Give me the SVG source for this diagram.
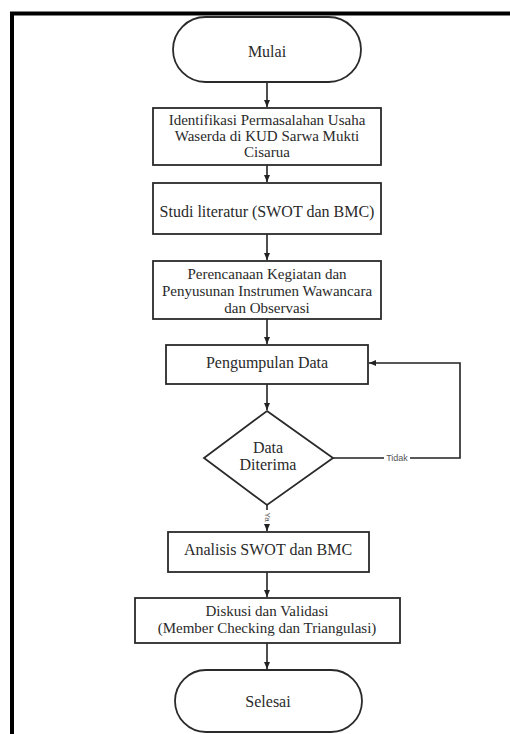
<svg xmlns="http://www.w3.org/2000/svg" width="510" height="734" viewBox="0 0 510 734">
<defs>
<marker id="ah" markerWidth="8" markerHeight="8" refX="7" refY="4" orient="auto" markerUnits="userSpaceOnUse">
<path d="M0,1 L7,4 L0,7 Z" fill="#222"/>
</marker>
<style>
.shape{fill:#fff;stroke:#2a2a2a;stroke-width:1.8}
.t{font-family:"Liberation Serif","Times New Roman",serif;font-size:16px;fill:#2a2a2a;text-anchor:middle}
.m{font-size:15px}
.c{fill:none;stroke:#222;stroke-width:1.6}
.lbl{font-family:"Liberation Sans",Arial,sans-serif;font-size:9px;fill:#555;text-anchor:middle}
</style>
</defs>
<rect width="510" height="734" fill="#fff"/>
<path d="M12,734 V13.5 H510" fill="none" stroke="#000" stroke-width="4"/>
<g id="connectors">
<line class="c" x1="267" y1="82" x2="267" y2="107" marker-end="url(#ah)"/>
<line class="c" x1="267" y1="165" x2="267" y2="182" marker-end="url(#ah)"/>
<line class="c" x1="267" y1="234" x2="267" y2="260" marker-end="url(#ah)"/>
<line class="c" x1="267" y1="319" x2="267" y2="344" marker-end="url(#ah)"/>
<line class="c" x1="267" y1="384" x2="267" y2="410" marker-end="url(#ah)"/>
<line class="c" x1="267" y1="505" x2="267" y2="531" marker-end="url(#ah)"/>
<line class="c" x1="267" y1="572" x2="267" y2="597" marker-end="url(#ah)"/>
<line class="c" x1="267" y1="643" x2="267" y2="669" marker-end="url(#ah)"/>
<path class="c" d="M333,458 H460 V363 H369" marker-end="url(#ah)"/>
<rect x="384" y="452" width="26" height="12" fill="#fff"/>
<text class="lbl" x="397" y="461">Tidak</text>
<rect x="263" y="510" width="9" height="14" fill="#fff"/>
<text class="lbl" transform="translate(265,517) rotate(90)" x="0" y="0" style="font-size:8px">Ya</text>
</g>
<g id="mulai">
<rect class="shape" x="173" y="17" width="188" height="65" rx="32.5" ry="32.5"/>
<text class="t" x="267" y="57">Mulai</text>
</g>
<g id="identifikasi">
<rect class="shape" x="153" y="108" width="228" height="57"/>
<text class="t m" x="267" y="125">Identifikasi Permasalahan Usaha</text>
<text class="t m" x="267" y="141">Waserda di KUD Sarwa Mukti</text>
<text class="t m" x="267" y="157">Cisarua</text>
</g>
<g id="studi">
<rect class="shape" x="153" y="183" width="228" height="51"/>
<text class="t" x="267" y="217">Studi literatur (SWOT dan BMC)</text>
</g>
<g id="perencanaan">
<rect class="shape" x="153" y="261" width="228" height="58"/>
<text class="t m" x="267" y="279">Perencanaan Kegiatan dan</text>
<text class="t m" x="267" y="296">Penyusunan Instrumen Wawancara</text>
<text class="t m" x="267" y="313">dan Observasi</text>
</g>
<g id="pengumpulan">
<rect class="shape" x="166" y="345" width="202" height="39"/>
<text class="t" x="267" y="368">Pengumpulan Data</text>
</g>
<g id="keputusan">
<polygon class="shape" points="267,411 333,458 267,505 204,458"/>
<text class="t" x="268" y="453">Data</text>
<text class="t" x="268" y="470">Diterima</text>
</g>
<g id="analisis">
<rect class="shape" x="168" y="532" width="201" height="40"/>
<text class="t" x="268" y="555">Analisis SWOT dan BMC</text>
</g>
<g id="diskusi">
<rect class="shape" x="135" y="598" width="265" height="45"/>
<text class="t m" x="267" y="616">Diskusi dan Validasi</text>
<text class="t m" x="267" y="633">(Member Checking dan Triangulasi)</text>
</g>
<g id="selesai">
<rect class="shape" x="175" y="670" width="187" height="62" rx="31" ry="31"/>
<text class="t" x="268" y="707">Selesai</text>
</g>
</svg>
